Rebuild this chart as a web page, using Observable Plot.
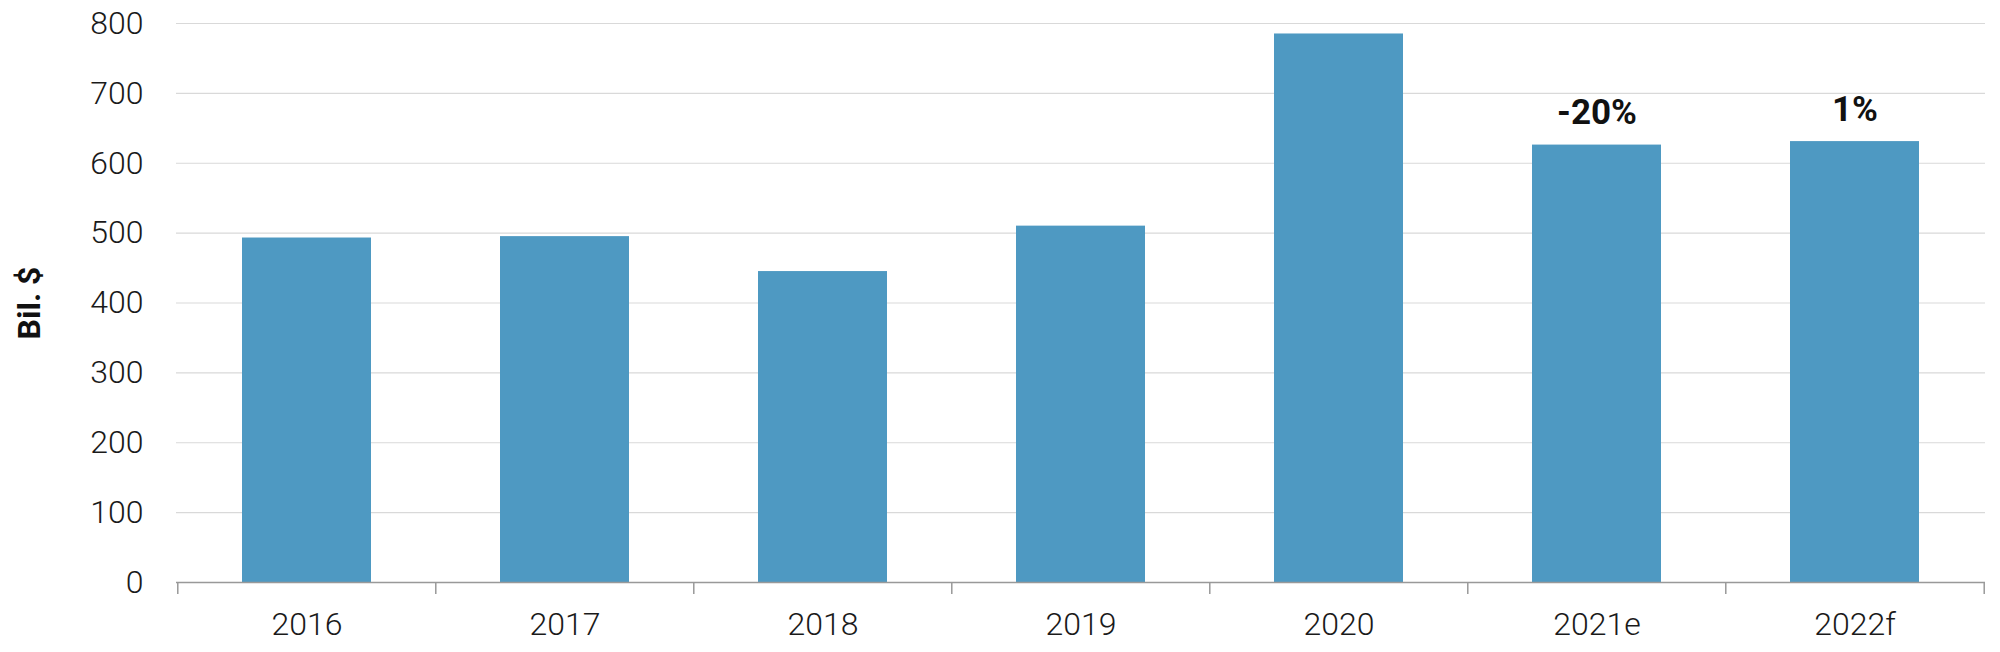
<!DOCTYPE html>
<html>
<head>
<meta charset="utf-8">
<script src="https://cdn.jsdelivr.net/npm/d3@7"></script>
<script src="https://cdn.jsdelivr.net/npm/@observablehq/plot@0.6"></script>
<style>
  html, body { margin: 0; padding: 0; background: #fff; }
  #chart svg { display: block; }
</style>
</head>
<body>
<div id="chart"></div>
<script>
const categories = ["2016", "2017", "2018", "2019", "2020", "2021e", "2022f"];
const values = [493, 495, 445, 510, 785, 626, 631];
const changeLabels = ["", "", "", "", "", "-20%", "1%"];
const yTicks = [0, 100, 200, 300, 400, 500, 600, 700, 800];
const yLabel = "Bil. $";

const data = categories.map((c, i) => ({category: c, value: values[i], label: changeLabels[i]}));

const W = 2000, H = 652;
const mL = 176, mR = 15, mT = 23, mB = 70;
const step = (W - mL - mR) / categories.length;

const chart = Plot.plot({
  width: W,
  height: H,
  marginLeft: mL,
  marginRight: mR,
  marginTop: mT,
  marginBottom: mB,
  style: {fontFamily: "Roboto", fontSize: "32px", fontWeight: 300, color: "#1a1a1a", background: "#fff"},
  x: {domain: categories, paddingInner: 0.5, paddingOuter: 0.25},
  y: {domain: [0, 800]},
  marks: [
    Plot.gridY(yTicks, {stroke: "#d9d9d9", strokeOpacity: 1, strokeWidth: 1.2}),
    Plot.axisY(yTicks, {tickSize: 0, tickPadding: 33, label: null, fontSize: 32}),
    Plot.barY(data, {x: "category", y: "value", fill: "#4e99c2"}),
    Plot.ruleY([0], {stroke: "#999", strokeWidth: 1.5}),
    // boundary ticks (left side of each band)
    Plot.axisX(categories, {tickSize: 12, dx: -step / 2, tickFormat: () => "", label: null, stroke: "#999", strokeWidth: 1.5}),
    // right-most boundary tick
    Plot.axisX([categories[categories.length - 1]], {tickSize: 12, dx: step / 2, tickFormat: () => "", label: null, stroke: "#999", strokeWidth: 1.5}),
    // category labels
    Plot.axisX(categories, {tickSize: 0, tickPadding: 30, label: null, fontSize: 32}),
    Plot.text(data.filter(d => d.label), {x: "category", y: "value", text: "label", dy: -32, fontSize: 35, fontWeight: "bold", fill: "#111"}),
    Plot.text([yLabel], {frameAnchor: "left", textAnchor: "middle", rotate: -90, dx: -147, fontSize: 32, fontWeight: "bold", fill: "#111"})
  ]
});

document.getElementById("chart").appendChild(chart);
</script>
</body>
</html>
